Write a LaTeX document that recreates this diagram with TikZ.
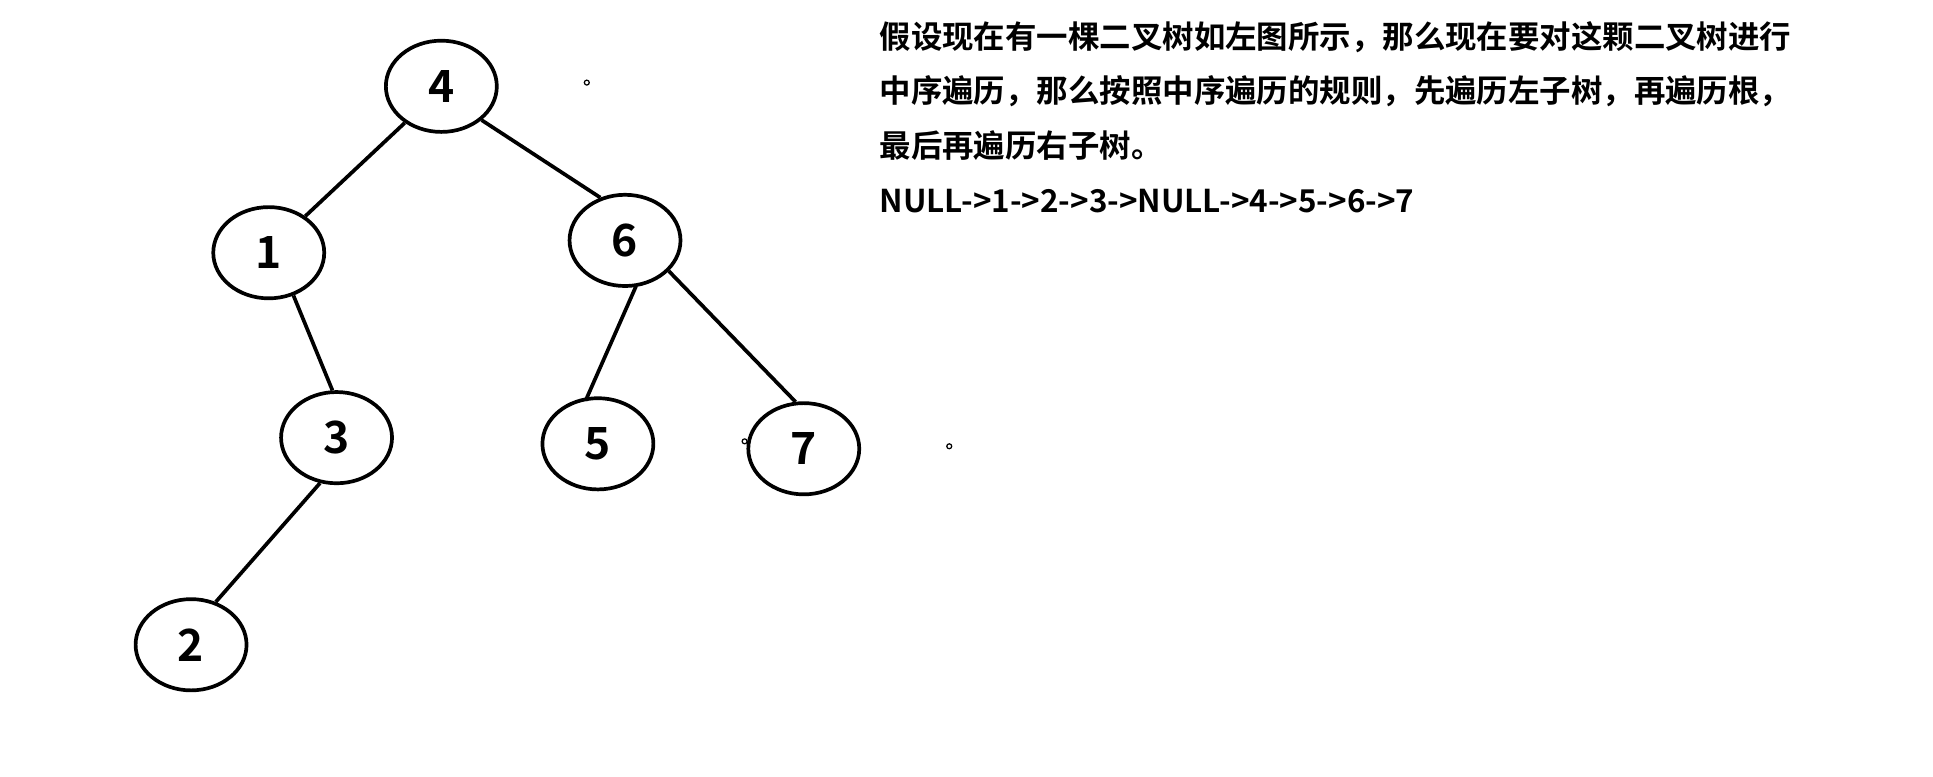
\documentclass[tikz,border=0pt]{standalone}
\usepackage{fontspec}
\setmainfont{Noto Sans CJK SC}[BoldFont={* Bold}]
\usetikzlibrary{shapes.geometric}
\begin{document}
\begin{tikzpicture}[x=1pt,y=-1pt,
  tn/.style={draw,line width=3pt,ellipse,minimum width=90pt,minimum height=74pt,inner sep=0pt,font=\fontsize{36}{36}\selectfont\bfseries},
  ln/.style={line width=3pt},
  tx/.style={anchor=west,font=\fontsize{25.5}{25.5}\selectfont\bfseries}]
\useasboundingbox (0,0) rectangle (1568,630);
\fill[white] (0,0) rectangle (1568,630);
\node[tn] (n4) at (358,70) {4};
\node[tn] (n1) at (218,205) {1};
\node[tn] (n6) at (507,195) {6};
\node[tn] (n3) at (273,355) {3};
\node[tn] (n5) at (485,360) {5};
\node[tn] (n7) at (652,364) {7};
\node[tn] (n2) at (155,523) {2};
\coordinate (c65) at (475,325);
\coordinate (c62) at (516,232);
\draw[ln] (n4.-135) -- (n1.45);
\draw[ln] (n4.-40) -- (n6.120);
\draw[ln] (n1.-60) -- (n3.95);
\draw[ln] (c62) -- (c65);
\draw[ln] (n6.-35) -- (n7.100);
\draw[ln] (n3.-110) -- (n2.60);
\foreach \p/\n in {{(476,67)}/d1,{(604,358)}/d2,{(770,362)}/d3} \draw[line width=1pt] \p circle (2pt);
\node[tx] (t1) at (710,30) {假设现在有一棵二叉树如左图所示，那么现在要对这颗二叉树进行};
\node[tx] (t2) at (710,74) {中序遍历，那么按照中序遍历的规则，先遍历左子树，再遍历根，};
\node[tx] (t3) at (710,118) {最后再遍历右子树。};
\node[tx] (t4) at (710,163) {NULL->1->2->3->NULL->4->5->6->7};
\end{tikzpicture}
\end{document}
